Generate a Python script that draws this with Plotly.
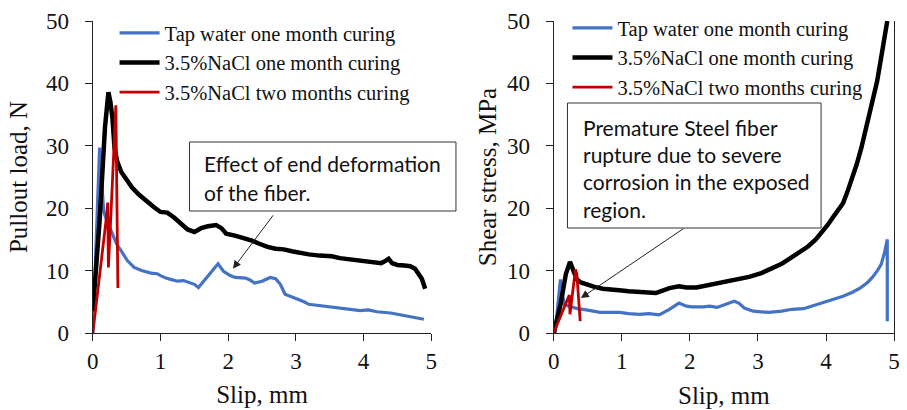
import plotly.graph_objects as go

# ---------------- data: left panel (Pullout load, N) ----------------
tap_load_x = [0.0, 0.1, 0.13, 0.16, 0.2, 0.25, 0.3, 0.35, 0.44, 0.51, 0.61, 0.72, 0.86, 0.95, 1.0, 1.08,
              1.15, 1.25, 1.34, 1.42, 1.5, 1.56, 1.65, 1.75, 1.85, 1.93, 2.03, 2.1, 2.2, 2.26, 2.32, 2.39,
              2.5, 2.62, 2.7, 2.77, 2.84, 2.94, 3.04, 3.12, 3.19, 3.35, 3.53, 3.68, 3.82, 3.95, 4.07,
              4.2, 4.4, 4.55, 4.7, 4.89]
tap_load_y = [0.0, 29.7, 24.5, 19.5, 18.2, 16.9, 15.5, 14.3, 12.8, 11.6, 10.5, 10.0, 9.6, 9.5, 9.2, 8.8,
              8.6, 8.3, 8.4, 8.1, 7.8, 7.3, 8.5, 9.8, 11.1, 9.9, 9.2, 8.9, 8.9, 8.8, 8.5, 8.0,
              8.3, 8.9, 8.7, 7.8, 6.2, 5.8, 5.4, 5.0, 4.6, 4.4, 4.1, 3.9, 3.7, 3.6, 3.7,
              3.4, 3.2, 2.9, 2.6, 2.2]

nacl1_load_x = [0.0, 0.1, 0.18, 0.23, 0.26, 0.29, 0.32, 0.36, 0.42, 0.5, 0.58, 0.68, 0.78, 0.9, 1.0,
                1.1, 1.2, 1.3, 1.4, 1.5, 1.6, 1.7, 1.82, 1.9, 1.97, 2.1, 2.22, 2.35, 2.46, 2.58, 2.7,
                2.82, 2.94, 3.06, 3.19, 3.35, 3.53, 3.65, 3.78, 3.9, 4.01, 4.15, 4.26, 4.33, 4.37,
                4.42, 4.5, 4.6, 4.69, 4.76, 4.81, 4.86, 4.91]
nacl1_load_y = [3.5, 18.0, 33.0, 38.6, 37.0, 34.4, 29.7, 27.5, 25.8, 24.4, 23.3, 22.2, 21.2, 20.2, 19.4,
                19.3, 18.5, 17.6, 16.6, 16.2, 16.8, 17.1, 17.3, 16.8, 15.9, 15.6, 15.3, 14.8, 14.3, 13.8, 13.5,
                13.4, 13.1, 12.8, 12.6, 12.4, 12.3, 12.0, 11.8, 11.7, 11.6, 11.4, 11.2, 11.6, 11.9,
                11.2, 10.9, 10.8, 10.7, 10.3, 9.6, 8.7, 7.1]

nacl2_load_x = [0.0, 0.1, 0.2, 0.22, 0.23, 0.28, 0.34, 0.37]
nacl2_load_y = [0.0, 9.0, 18.5, 20.9, 10.5, 22.0, 36.5, 7.2]

# ---------------- data: right panel (Shear stress, MPa) ----------------
tap_stress_x = [0.02, 0.1, 0.13, 0.16, 0.22, 0.35, 0.48, 0.68, 0.85, 0.97, 1.1, 1.26, 1.4, 1.55, 1.7,
                1.84, 1.95, 2.03, 2.2, 2.29, 2.4, 2.5, 2.65, 2.72, 2.8, 2.93, 3.16, 3.35, 3.5, 3.67,
                3.84, 4.0, 4.13, 4.25, 4.38, 4.5, 4.61, 4.68, 4.75, 4.81, 4.86, 4.9, 4.9]
tap_stress_y = [0.0, 8.6, 6.0, 4.6, 4.3, 3.9, 3.7, 3.3, 3.3, 3.3, 3.1, 3.0, 3.1, 2.9, 3.8,
                4.8, 4.3, 4.2, 4.2, 4.3, 4.1, 4.5, 5.1, 4.8, 4.0, 3.5, 3.3, 3.5, 3.8, 3.9,
                4.5, 5.0, 5.4, 5.9, 6.5, 7.2, 8.1, 8.9, 9.9, 11.0, 12.9, 15.0, 1.9]

nacl1_stress_x = [0.0, 0.1, 0.18, 0.24, 0.29, 0.34, 0.4, 0.5, 0.6, 0.72, 0.85, 1.0, 1.1, 1.25, 1.4,
                  1.5, 1.6, 1.7, 1.84, 1.95, 2.1, 2.3, 2.54, 2.7, 2.87, 3.05, 3.22, 3.35, 3.45, 3.6,
                  3.74, 3.85, 3.94, 4.03, 4.1, 4.18, 4.25, 4.31, 4.37, 4.45, 4.52, 4.58, 4.64, 4.7,
                  4.75, 4.8, 4.83, 4.87, 4.9]
nacl1_stress_y = [0.0, 4.5, 9.5, 11.4, 10.0, 8.6, 8.1, 7.7, 7.4, 7.1, 6.9, 6.8, 6.7, 6.6, 6.4,
                  6.4, 6.8, 7.2, 7.5, 7.3, 7.3, 7.7, 8.2, 8.5, 9.0, 9.6, 10.4, 11.1, 11.8, 12.8,
                  13.9, 15.0, 16.1, 17.4, 18.5, 19.6, 20.8, 22.5, 24.3, 27.0, 29.7, 32.3, 35.0, 37.7,
                  40.3, 43.5, 45.7, 48.0, 50.0]

nacl2_stress_x = [0.0, 0.1, 0.2, 0.23, 0.24, 0.28, 0.32, 0.34, 0.39]
nacl2_stress_y = [0.0, 2.6, 5.3, 6.1, 3.0, 6.5, 10.2, 9.5, 1.9]

series_names = ["Tap water one month curing", "3.5%NaCl one month curing", "3.5%NaCl two months curing"]
series_colors = ["#4472C4", "#000000", "#C00000"]
series_widths = [3.2, 4.5, 2.8]

x_ticks = [0, 1, 2, 3, 4, 5]
y_ticks = [0, 10, 20, 30, 40, 50]

SERIF = "Liberation Serif"
SANS = "Lato"

fig = go.Figure()

left = [(tap_load_x, tap_load_y), (nacl1_load_x, nacl1_load_y), (nacl2_load_x, nacl2_load_y)]
right = [(tap_stress_x, tap_stress_y), (nacl1_stress_x, nacl1_stress_y), (nacl2_stress_x, nacl2_stress_y)]

for i, (xs, ys) in enumerate(left):
    fig.add_trace(go.Scatter(x=xs, y=ys, mode="lines", name=series_names[i],
                             line=dict(color=series_colors[i], width=series_widths[i]),
                             xaxis="x", yaxis="y", legend="legend"))
for i, (xs, ys) in enumerate(right):
    fig.add_trace(go.Scatter(x=xs, y=ys, mode="lines", name=series_names[i],
                             line=dict(color=series_colors[i], width=series_widths[i]),
                             xaxis="x2", yaxis="y2", legend="legend2"))

W, H = 907, 410
T, B = 21, 77
PH = H - T - B


def px(xp):
    return xp / W


def py(yp):
    return (H - B - yp) / PH


axis_common = dict(showgrid=False, zeroline=False, showline=True, linecolor="#222", linewidth=1.3,
                   ticks="outside", ticklen=7, tickcolor="#222", tickwidth=1.3,
                   tickfont=dict(family=SERIF, size=23, color="#111"))
title_font = dict(family=SERIF, size=25, color="#111")

fig.update_layout(
    width=W, height=H,
    margin=dict(l=0, r=0, t=T, b=B),
    paper_bgcolor="white", plot_bgcolor="white",
    xaxis=dict(domain=[px(88), px(431)], range=[0, 5], tickvals=x_ticks, anchor="y",
               title=dict(text="Slip, mm", font=title_font, standoff=12),
               ticklabelstandoff=0, **axis_common),
    yaxis=dict(domain=[0, 1], range=[0, 50], tickvals=y_ticks, anchor="x",
               title=dict(text="Pullout load, N", font=title_font, standoff=11),
               ticklabelstandoff=11, **axis_common),
    xaxis2=dict(domain=[px(555), px(900)], range=[0, 5], tickvals=x_ticks, anchor="y2",
                title=dict(text="Slip, mm", font=title_font, standoff=13),
                ticklabelstandoff=0, **axis_common),
    yaxis2=dict(domain=[0, 1], range=[0, 50], tickvals=y_ticks, anchor="x2", mirror=True,
                title=dict(text="Shear stress, MPa", font=title_font, standoff=3),
                ticklabelstandoff=11, **axis_common),
    legend=dict(x=px(110), y=py(13), xanchor="left", yanchor="top", bgcolor="rgba(0,0,0,0)",
                font=dict(family=SERIF, size=20.5, color="#111"), itemwidth=40),
    legend2=dict(x=px(569), y=py(8), xanchor="left", yanchor="top", bgcolor="rgba(0,0,0,0)",
                 font=dict(family=SERIF, size=20.5, color="#111"), itemwidth=40),
    showlegend=True,
)

# text boxes
fig.add_shape(type="rect", xref="paper", yref="paper", x0=px(186), x1=px(456), y0=py(211), y1=py(142),
              line=dict(color="#333", width=1), fillcolor="white", layer="above")
fig.add_shape(type="rect", xref="paper", yref="paper", x0=px(569), x1=px(826), y0=py(228), y1=py(103),
              line=dict(color="#333", width=1), fillcolor="white", layer="above")

box_left_lines = ["Effect of end deformation", "of the fiber."]
box_left_y = [163, 192]
for t, yy in zip(box_left_lines, box_left_y):
    fig.add_annotation(text=t, xref="paper", yref="paper", x=px(199), y=py(yy), xanchor="left",
                       yanchor="middle", showarrow=False, font=dict(family=SANS, size=21, color="#111"))

box_right_lines = ["Premature Steel fiber", "rupture due to severe", "corrosion in the exposed", "region."]
box_right_y = [127, 154, 182, 209]
for t, yy in zip(box_right_lines, box_right_y):
    fig.add_annotation(text=t, xref="paper", yref="paper", x=px(583), y=py(yy), xanchor="left",
                       yanchor="middle", showarrow=False, font=dict(family=SANS, size=21, color="#111"))

# arrows
fig.add_annotation(text="", x=2.07, y=10.3, ax=2.68, ay=19.1, xref="x", yref="y", axref="x", ayref="y",
                   showarrow=True, arrowhead=2, arrowsize=1.6, arrowwidth=1, arrowcolor="#222")
fig.add_annotation(text="", x=0.4, y=5.6, ax=1.93, ay=16.9, xref="x2", yref="y2", axref="x2", ayref="y2",
                   showarrow=True, arrowhead=2, arrowsize=1.6, arrowwidth=1, arrowcolor="#222")

fig.write_html("out.html")
